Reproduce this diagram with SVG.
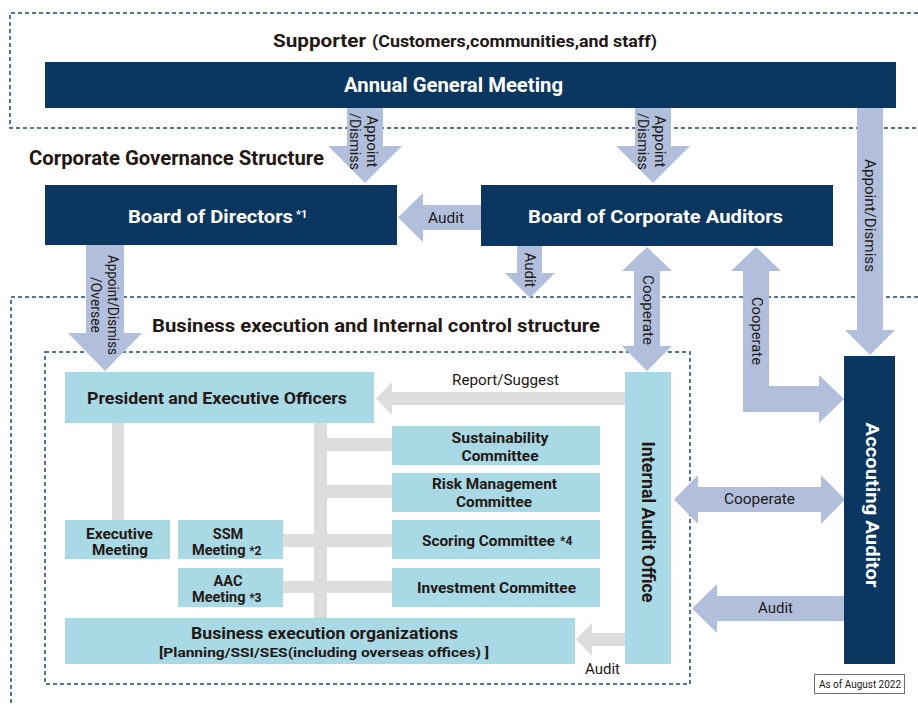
<svg xmlns="http://www.w3.org/2000/svg" width="918" height="706" viewBox="0 0 918 706">
<style>
  text { font-family: Roboto, "Liberation Sans", Arial, sans-serif; fill: #231815; }
  .navy { fill: #0b3660; }
  .lb { fill: #a8d9e4; }
  .blue { fill: #b1bfdc; }
  .gray { fill: #dcdddc; }
  .dash { fill: none; stroke: #1d4a72; stroke-width: 1.5; stroke-dasharray: 4 3; }
  .hd { font-weight: bold; }
  .w { fill: #ffffff; font-weight: bold; }
  .b { font-weight: bold; }
  .lbl { font-size: 14.5px; }
  .mid { text-anchor: middle; }
</style>

<g id="frames">
  <path class="dash" d="M918,13 H10 V128 H918"/>
  <path class="dash" d="M918,297 H11 V706"/>
  <rect class="dash" x="45" y="352" width="645" height="332"/>
</g>

<g id="headings">
  <text class="hd" x="273" y="47" font-size="19" textLength="93" lengthAdjust="spacingAndGlyphs">Supporter</text>
  <text class="hd" x="372" y="47" font-size="16" textLength="285" lengthAdjust="spacingAndGlyphs">(Customers,communities,and staff)</text>
  <text class="hd" x="29" y="165" font-size="20" textLength="295" lengthAdjust="spacingAndGlyphs">Corporate Governance Structure</text>
  <text class="hd" x="152" y="332" font-size="18" textLength="448" lengthAdjust="spacingAndGlyphs">Business execution and Internal control structure</text>
</g>

<g id="connectors">
  <!-- gray tree connectors -->
  <rect class="gray" x="112" y="423" width="12" height="97"/>
  <rect class="gray" x="314" y="423" width="13" height="195"/>
  <rect class="gray" x="327" y="438" width="65" height="13"/>
  <rect class="gray" x="327" y="485" width="65" height="13"/>
  <rect class="gray" x="283" y="534" width="109" height="13"/>
  <rect class="gray" x="283" y="581" width="109" height="12"/>
  <!-- gray arrows -->
  <polygon class="gray" points="626,392 392,392 392,382 376,398.5 392,415 392,405 626,405"/>
  <polygon class="gray" points="625,633 592,633 592,623 576,639.5 592,656 592,646 625,646"/>
  <!-- blue arrows -->
  <polygon class="blue" points="347,108 383,108 383,146 402,146 365,183 328,146 347,146"/>
  <polygon class="blue" points="635,108 671,108 671,146 690,146 653,183 616,146 635,146"/>
  <polygon class="blue" points="857,108 883,108 883,330 895,330 870,355 845,330 857,330"/>
  <polygon class="blue" points="481,205 423,205 423,193 398,217.5 423,242 423,230 481,230"/>
  <polygon class="blue" points="517,246 542,246 542,273 555,273 530,298 505,273 517,273"/>
  <polygon class="blue" points="86,245 124,245 124,333 142,333 105,371 68,333 86,333"/>
  <polygon class="blue" points="647,247 672,271 660,271 660,346 672,346 647,371 622,346 634,346 634,271 622,271"/>
  <polygon class="blue" points="756,247 781,271 769,271 769,386 819,386 819,375 844,399 819,423 819,412 743,412 743,271 731,271"/>
  <polygon class="blue" points="674,499.5 698,475 698,487 821,487 821,475 845,499.5 821,524 821,512 698,512 698,524"/>
  <polygon class="blue" points="845,596 717,596 717,584 692,608.5 717,633 717,621 845,621"/>
  <!-- connector labels -->
  <g class="lbl">
    <text transform="translate(372,141.5) rotate(90)" class="mid" y="5" textLength="52" lengthAdjust="spacingAndGlyphs">Appoint</text>
    <text transform="translate(355,141.5) rotate(90)" class="mid" y="5" textLength="57" lengthAdjust="spacingAndGlyphs">/Dismiss</text>
    <text transform="translate(660,141.5) rotate(90)" class="mid" y="5" textLength="52" lengthAdjust="spacingAndGlyphs">Appoint</text>
    <text transform="translate(643,141.5) rotate(90)" class="mid" y="5" textLength="57" lengthAdjust="spacingAndGlyphs">/Dismiss</text>
    <text transform="translate(870,215.5) rotate(90)" class="mid" y="5" textLength="113" lengthAdjust="spacingAndGlyphs">Appoint/Dismiss</text>
    <text transform="translate(112.5,305) rotate(90)" class="mid" y="5" textLength="100" lengthAdjust="spacingAndGlyphs">Appoint/Dismiss</text>
    <text transform="translate(95.5,305) rotate(90)" class="mid" y="5" textLength="56" lengthAdjust="spacingAndGlyphs">/Oversee</text>
    <text transform="translate(529.5,270) rotate(90)" class="mid" y="5" textLength="35" lengthAdjust="spacingAndGlyphs">Audit</text>
    <text transform="translate(648,310) rotate(90)" class="mid" y="5" textLength="70" lengthAdjust="spacingAndGlyphs">Cooperate</text>
    <text transform="translate(757,331) rotate(90)" class="mid" y="5" textLength="68" lengthAdjust="spacingAndGlyphs">Cooperate</text>
    <text x="428" y="223" textLength="36" lengthAdjust="spacingAndGlyphs">Audit</text>
    <text x="452" y="385" textLength="107" lengthAdjust="spacingAndGlyphs">Report/Suggest</text>
    <text x="724" y="504" textLength="71" lengthAdjust="spacingAndGlyphs">Cooperate</text>
    <text x="758" y="613" textLength="35" lengthAdjust="spacingAndGlyphs">Audit</text>
    <text x="585" y="674" textLength="35" lengthAdjust="spacingAndGlyphs">Audit</text>
  </g>
</g>

<g id="agm">
  <rect class="navy" x="45" y="62" width="851" height="46"/>
  <text class="w" x="344" y="92" font-size="20" textLength="219" lengthAdjust="spacingAndGlyphs">Annual General Meeting</text>
</g>
<g id="board-of-directors">
  <rect class="navy" x="45" y="185" width="352" height="60"/>
  <text class="w" x="128" y="223" font-size="19" textLength="165" lengthAdjust="spacingAndGlyphs">Board of Directors</text>
  <text class="w" x="296" y="218" font-size="11">*1</text>
</g>
<g id="board-of-corporate-auditors">
  <rect class="navy" x="481" y="185" width="352" height="61"/>
  <text class="w" x="528" y="223" font-size="19" textLength="255" lengthAdjust="spacingAndGlyphs">Board of Corporate Auditors</text>
</g>
<g id="accounting-auditor">
  <rect class="navy" x="844" y="356" width="51" height="308"/>
  <text class="w mid" transform="translate(873,505) rotate(90)" y="7" font-size="19" textLength="165" lengthAdjust="spacingAndGlyphs">Accouting Auditor</text>
</g>
<g id="president">
  <rect class="lb" x="65" y="372" width="309" height="51"/>
  <text class="b" x="87" y="404" font-size="17" textLength="260" lengthAdjust="spacingAndGlyphs">President and Executive Officers</text>
</g>
<g id="executive-meeting">
  <rect class="lb" x="65" y="520" width="105" height="39"/>
  <text class="b mid" x="119.5" y="539" font-size="14.5" textLength="67" lengthAdjust="spacingAndGlyphs">Executive</text>
  <text class="b mid" x="120" y="555" font-size="14.5" textLength="56" lengthAdjust="spacingAndGlyphs">Meeting</text>
</g>
<g id="ssm-meeting">
  <rect class="lb" x="178" y="520" width="105" height="39"/>
  <text class="b mid" x="228" y="539" font-size="14.5">SSM</text>
  <text class="b" x="192" y="555" font-size="14.5">Meeting <tspan font-size="12">*2</tspan></text>
</g>
<g id="aac-meeting">
  <rect class="lb" x="178" y="568" width="105" height="39"/>
  <text class="b mid" x="228" y="586" font-size="14.5">AAC</text>
  <text class="b" x="192" y="602" font-size="14.5">Meeting <tspan font-size="12">*3</tspan></text>
</g>
<g id="sustainability-committee">
  <rect class="lb" x="392" y="426" width="208" height="39"/>
  <text class="b mid" x="500" y="443" font-size="14.5" textLength="97" lengthAdjust="spacingAndGlyphs">Sustainability</text>
  <text class="b mid" x="500" y="461" font-size="14.5" textLength="77" lengthAdjust="spacingAndGlyphs">Committee</text>
</g>
<g id="risk-management-committee">
  <rect class="lb" x="392" y="473" width="208" height="39"/>
  <text class="b mid" x="494.5" y="489" font-size="14.5" textLength="125" lengthAdjust="spacingAndGlyphs">Risk Management</text>
  <text class="b mid" x="494" y="507" font-size="14.5" textLength="76" lengthAdjust="spacingAndGlyphs">Committee</text>
</g>
<g id="scoring-committee">
  <rect class="lb" x="392" y="520" width="208" height="39"/>
  <text class="b" x="422" y="546" font-size="14.5" textLength="133" lengthAdjust="spacingAndGlyphs">Scoring Committee</text>
  <text class="b" x="560" y="545" font-size="12">*4</text>
</g>
<g id="investment-committee">
  <rect class="lb" x="392" y="568" width="208" height="39"/>
  <text class="b mid" x="496.5" y="593" font-size="14.5" textLength="159" lengthAdjust="spacingAndGlyphs">Investment Committee</text>
</g>
<g id="business-execution-organizations">
  <rect class="lb" x="65" y="618" width="510" height="46"/>
  <text class="b mid" x="324.5" y="639" font-size="17" textLength="267" lengthAdjust="spacingAndGlyphs">Business execution organizations</text>
  <text class="b mid" x="324" y="657" font-size="13.5" textLength="330" lengthAdjust="spacingAndGlyphs">[Planning/SSI/SES(including overseas offices) ]</text>
</g>
<g id="internal-audit-office">
  <rect class="lb" x="625" y="372" width="46" height="292"/>
  <text class="b mid" transform="translate(648,522) rotate(90)" y="6.5" font-size="18" textLength="161" lengthAdjust="spacingAndGlyphs">Internal Audit Office</text>
</g>
<g id="as-of">
  <rect x="814.5" y="674.5" width="90" height="19" fill="#ffffff" stroke="#6d6d6d" stroke-width="1"/>
  <text x="819" y="688" font-size="10.5" textLength="82" lengthAdjust="spacingAndGlyphs">As of August 2022</text>
</g>
</svg>
